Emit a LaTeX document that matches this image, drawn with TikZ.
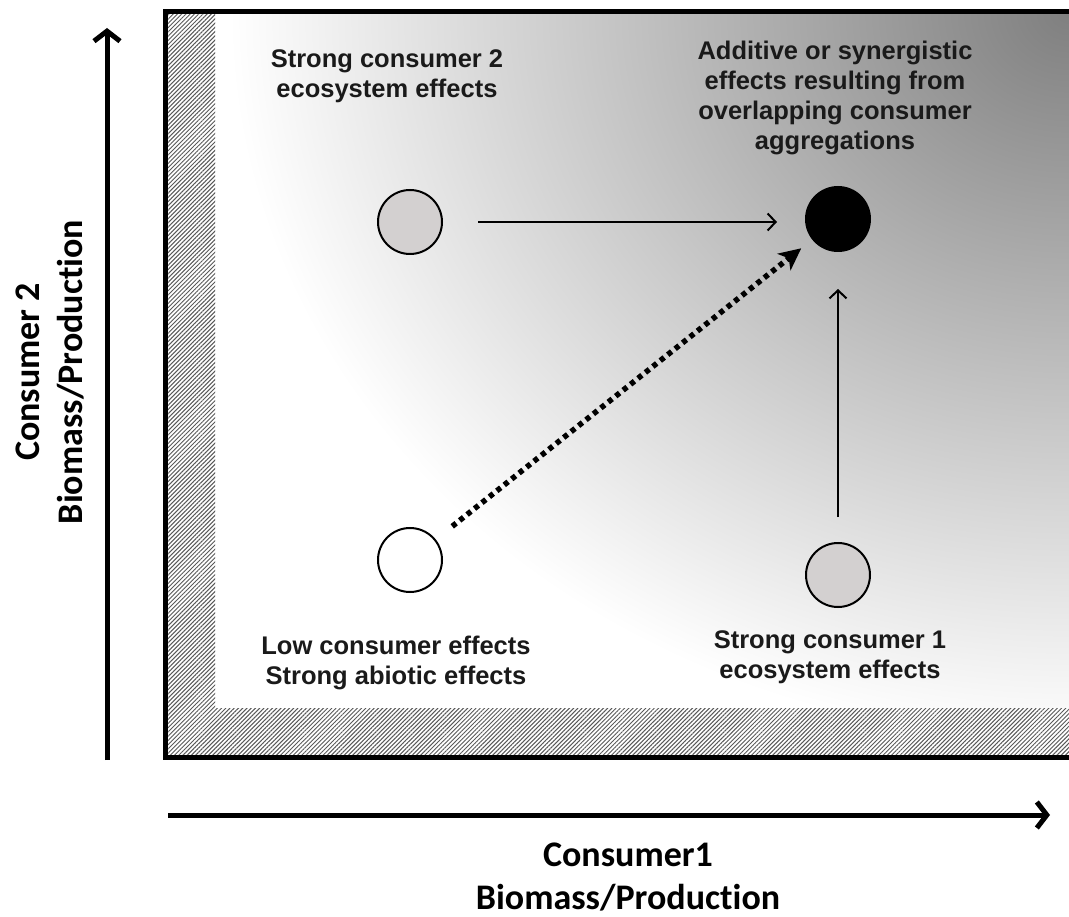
\documentclass[tikz,border=0pt]{standalone}
\usepackage{fontspec}
\setmainfont{Liberation Sans}
\newfontfamily\axisfont{Carlito}[Ligatures=NoCommon]
\usetikzlibrary{arrows.meta,patterns.meta}
\definecolor{cgray}{HTML}{D3D0D0}
\definecolor{txt}{HTML}{1A1A1A}
\begin{document}
\begin{tikzpicture}[x=1pt,y=-1pt,
 lbl/.style={align=center,text=txt,font=\fontsize{25.5}{30}\selectfont\bfseries},
 axlbl/.style={align=center,text=black,font=\axisfont\fontsize{36}{43}\selectfont\bfseries},
 dot/.style={circle,draw=black,line width=2pt,minimum size=64pt,inner sep=0pt},
 thinarrow/.style={line width=2pt,-{Straight Barb[length=8pt,width=17pt]}},
 axisarrow/.style={line width=5pt,-{Straight Barb[length=10pt,width=26pt]}},
 dotarrow/.style={line width=5.5pt,dash pattern=on 5pt off 4.5pt,-{Stealth[length=22pt,width=21pt,inset=6pt]}},
 hatch/.style={pattern={Lines[angle=45,distance=3pt,line width=1pt]},pattern color=black!65},
]
\useasboundingbox (0,0) rectangle (1069,917);
\fill[white] (0,0) rectangle (1069,917);
% background gradient and hatched border
\begin{scope}
 \clip (165,12) rectangle (1069,757);
 \shade[inner color=black!50, outer color=white] (1069,12) ellipse[x radius=840,y radius=730];
 \fill[white] (165,12) -- (215,12) -- (215,708) -- (1069,708) -- (1069,757) -- (165,757) -- cycle;
 \fill[hatch] (165,12) -- (215,12) -- (215,708) -- (1069,708) -- (1069,757) -- (165,757) -- cycle;
\end{scope}
\draw[line width=5pt] (1080,12) -- (165,12) -- (165,757) -- (1080,757);
% circles
\node[dot,fill=cgray] (c2) at (410,222) {};
\node[dot,fill=black] (syn) at (838,219) {};
\node[dot,fill=white] (low) at (410,560) {};
\node[dot,fill=cgray] (c1) at (838,575) {};
% connectors
\draw[thinarrow,shorten <=35pt,shorten >=28pt] (c2.east) -- (c2.east -| syn.west);
\draw[thinarrow,shorten <=25pt,shorten >=37pt] (c1.north) -- (c1.north |- syn.south);
\draw[dotarrow,shorten <=54pt,shorten >=47pt] (low.center) -- (syn.center);
% labels
\node[lbl] (t2) at (387,76) {Strong consumer 2\\ecosystem effects};
\node[lbl] (tsyn) at (835,98) {Additive or synergistic\\effects resulting from\\overlapping consumer\\aggregations};
\node[lbl] (tlow) at (396,663) {Low consumer effects\\Strong abiotic effects};
\node[lbl] (t1) at (830,657) {Strong consumer 1\\ecosystem effects};
% axes
\coordinate (yb) at (107,760);
\coordinate (yt) at (107,28);
\coordinate (xb) at (168,815);
\coordinate (xt) at (1050,815);
\draw[axisarrow] (yb) -- (yt);
\draw[axisarrow] (xb) -- (xt);
\node[axlbl] (xl) at (628,877) {Consumer1\\Biomass/Production};
\node[axlbl,rotate=90] (yl) at (50,372) {Consumer 2\\Biomass/Production};
\end{tikzpicture}
\end{document}
